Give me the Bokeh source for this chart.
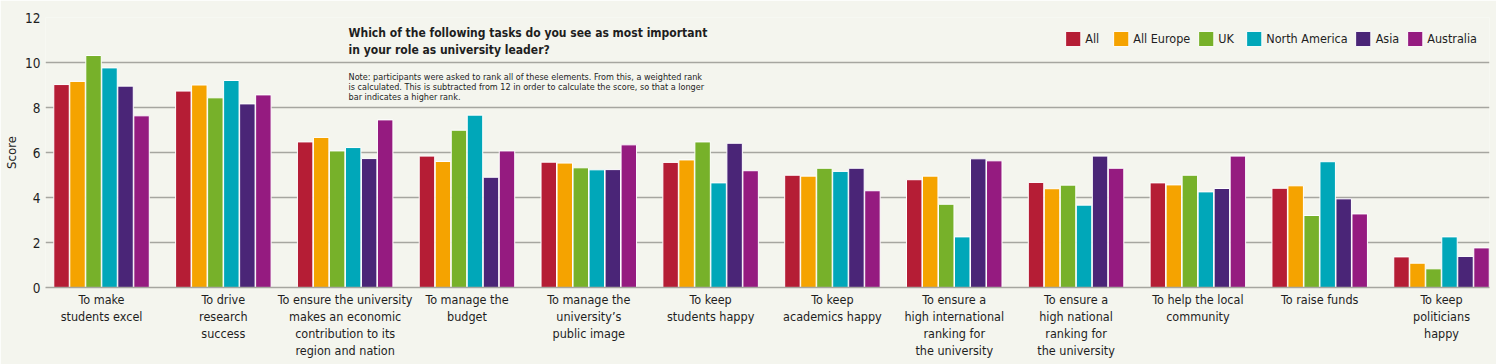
from bokeh.plotting import figure
from bokeh.models import ColumnDataSource, Range1d, Label, Legend, FixedTicker
from bokeh.transform import dodge
from bokeh.embed import file_html
from bokeh.resources import INLINE

tasks = [
    "To make\nstudents excel",
    "To drive\nresearch\nsuccess",
    "To ensure the university\nmakes an economic\ncontribution to its\nregion and nation",
    "To manage the\nbudget",
    "To manage the\nuniversity\u2019s\npublic image",
    "To keep\nstudents happy",
    "To keep\nacademics happy",
    "To ensure a\nhigh international\nranking for\nthe university",
    "To ensure a\nhigh national\nranking for\nthe university",
    "To help the local\ncommunity",
    "To raise funds",
    "To keep\npoliticians\nhappy",
]

regions = ["All", "All Europe", "UK", "North America", "Asia", "Australia"]

all_vals = [9.02, 8.73, 6.47, 5.84, 5.57, 5.56, 4.99, 4.79, 4.67, 4.65, 4.41, 1.36]
europe_vals = [9.16, 9.00, 6.67, 5.60, 5.53, 5.67, 4.95, 4.95, 4.39, 4.56, 4.52, 1.08]
uk_vals = [10.31, 8.43, 6.07, 6.99, 5.32, 6.47, 5.30, 3.70, 4.55, 4.99, 3.20, 0.83]
namerica_vals = [9.76, 9.20, 6.22, 7.66, 5.23, 4.65, 5.16, 2.25, 3.66, 4.25, 5.59, 2.25]
asia_vals = [8.95, 8.16, 5.73, 4.90, 5.24, 6.41, 5.30, 5.72, 5.84, 4.40, 3.94, 1.38]
australia_vals = [7.63, 8.56, 7.45, 6.07, 6.34, 5.19, 4.30, 5.63, 5.30, 5.84, 3.27, 1.76]

y_ticks = [0, 2, 4, 6, 8, 10, 12]

colors = ["#B51D35", "#F5A300", "#77B12A", "#00A7B9", "#4A2577", "#951B80"]

title_text = "Which of the following tasks do you see as most important\nin your role as university leader?"
note_text = ("Note: participants were asked to rank all of these elements. From this, a weighted rank\n"
             "is calculated. This is subtracted from 12 in order to calculate the score, so that a longer\n"
             "bar indicates a higher rank.")

FONT = "'DejaVu Sans Condensed', 'Liberation Sans', sans-serif"
BG = "#F4F5EE"
GRID = "#A6A6A0"
TXT = "#1E1E1E"

positions = list(range(len(tasks)))

source = ColumnDataSource(dict(
    pos=positions,
    r0=all_vals, r1=europe_vals, r2=uk_vals, r3=namerica_vals, r4=asia_vals, r5=australia_vals,
))

p = figure(
    x_range=Range1d(-0.46, 11.394),
    y_range=Range1d(0, 12),
    width=1496, height=364,
    output_backend="svg", toolbar_location=None,
    min_border_left=45, min_border_right=7, min_border_top=17, min_border_bottom=77,
    background_fill_color=BG, border_fill_color=BG,
)
p.outline_line_color = None

pitch = 0.1314
items = []
for j, (reg, col) in enumerate(zip(regions, colors)):
    r = p.vbar(x=dodge("pos", (j - 2.5) * pitch), top="r%d" % j, width=0.127,
               bottom=0, source=source, fill_color=col, line_color="white", line_width=1)
    items.append((reg, [r]))

legend = Legend(items=items, orientation="horizontal", location="top_right",
                glyph_width=19, glyph_height=19, label_height=19, label_standoff=3, spacing=6,
                padding=9, margin=3, background_fill_alpha=0, border_line_alpha=0,
                label_text_font=FONT, label_text_font_size="12.5px", label_text_color=TXT)
p.add_layout(legend)

# axes
p.xgrid.grid_line_color = None
p.ygrid.grid_line_color = GRID
p.ygrid.grid_line_width = 1.5
p.yaxis.ticker = FixedTicker(ticks=y_ticks)
p.yaxis.axis_line_color = None
p.yaxis.major_tick_line_color = None
p.yaxis.minor_tick_line_color = None
p.yaxis.major_tick_out = 0
p.yaxis.major_tick_in = 0
p.yaxis.major_label_text_font = FONT
p.yaxis.major_label_text_font_size = "13.5px"
p.yaxis.major_label_text_color = TXT
p.yaxis.major_label_standoff = 5
p.yaxis.axis_label = "Score"
p.yaxis.axis_label_text_font = FONT
p.yaxis.axis_label_text_font_size = "13px"
p.yaxis.axis_label_text_font_style = "normal"
p.yaxis.axis_label_text_color = TXT
p.yaxis.axis_label_standoff = 3

p.xaxis.ticker = FixedTicker(ticks=positions)
p.xaxis.major_label_overrides = {i: t for i, t in zip(positions, tasks)}
p.xaxis.axis_line_color = GRID
p.xaxis.axis_line_width = 1.5
p.xaxis.major_tick_line_color = None
p.xaxis.minor_tick_line_color = None
p.xaxis.major_tick_out = 0
p.xaxis.major_tick_in = 0
p.xaxis.major_label_text_font = FONT
p.xaxis.major_label_text_font_size = "12.5px"
p.xaxis.major_label_text_color = TXT
p.xaxis.major_label_text_line_height = 1.15
p.xaxis.major_label_standoff = 4
p.xaxis.major_label_orientation = "horizontal"

p.add_layout(Label(x=2.028, y=11.63, text=title_text, text_font=FONT, text_font_size="12px",
                   text_font_style="bold", text_color=TXT, text_baseline="top", text_align="left",
                   text_line_height=1.25))
p.add_layout(Label(x=2.028, y=9.6, text=note_text, text_font=FONT, text_font_size="9px",
                   text_color=TXT, text_baseline="top", text_align="left", text_line_height=1.0))

open("out.html", "w").write(file_html(p, INLINE))
